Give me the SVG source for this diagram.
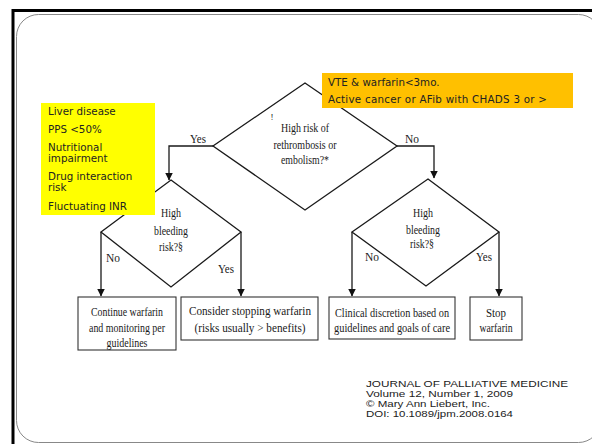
<svg xmlns="http://www.w3.org/2000/svg" width="592" height="444" viewBox="0 0 592 444">
<style>
.ln{fill:none;stroke:#1a1a1a;stroke-width:1.3}
.bx{fill:#fff;stroke:#333;stroke-width:1.1}
.t{font-family:"Liberation Serif",serif;font-size:12px;fill:#1a1a1a;text-anchor:middle}
.s{font-family:"DejaVu Sans",sans-serif;font-size:10.3px;fill:#222}
.j{font-family:"Liberation Sans",Arial,sans-serif;font-size:9.6px;fill:#222}
</style>
<defs>
<marker id="ar" viewBox="0 0 8 8" refX="7.5" refY="4" markerWidth="8" markerHeight="8" markerUnits="userSpaceOnUse" orient="auto">
<path d="M0,0 L8,4 L0,8 Z" fill="#111"/>
</marker>
</defs>
<rect width="592" height="444" fill="#fff"/>
<path d="M13,444 V10.5 H592" fill="none" stroke="#000" stroke-width="3"/>
<rect x="16.5" y="14.5" width="584" height="428" rx="22" fill="none" stroke="#888" stroke-width="1"/>

<g id="connectors">
<path class="ln" d="M213,146 H169 V180" marker-end="url(#ar)"/>
<path class="ln" d="M397,146 H434 V178" marker-end="url(#ar)"/>
<path class="ln" d="M101,232 V296" marker-end="url(#ar)"/>
<path class="ln" d="M241,232 V296" marker-end="url(#ar)"/>
<path class="ln" d="M352,232 V296" marker-end="url(#ar)"/>
<path class="ln" d="M499,232 V296" marker-end="url(#ar)"/>
<text class="t" x="198" y="143" textLength="16" lengthAdjust="spacingAndGlyphs">Yes</text>
<text class="t" x="412" y="143" textLength="14" lengthAdjust="spacingAndGlyphs">No</text>
<text class="t" x="113" y="262" textLength="14" lengthAdjust="spacingAndGlyphs">No</text>
<text class="t" x="226" y="273" textLength="16" lengthAdjust="spacingAndGlyphs">Yes</text>
<text class="t" x="372" y="261" textLength="14" lengthAdjust="spacingAndGlyphs">No</text>
<text class="t" x="484" y="261" textLength="16" lengthAdjust="spacingAndGlyphs">Yes</text>
</g>

<g id="d1">
<path class="ln" d="M305,83 L397,146 L305,210 L213,146 Z"/>
<text class="t" x="305" y="132" textLength="48" lengthAdjust="spacingAndGlyphs">High risk of</text>
<text class="t" x="305" y="149" textLength="63" lengthAdjust="spacingAndGlyphs">rethrombosis or</text>
<text class="t" x="305" y="164" textLength="48" lengthAdjust="spacingAndGlyphs">embolism?*</text>
<text class="t" x="272" y="120" style="font-size:9px">!</text>
</g>

<g id="d2">
<path class="ln" d="M171,180 L241,232 L171,287 L101,232 Z"/>
<text class="t" x="171" y="217" textLength="20" lengthAdjust="spacingAndGlyphs">High</text>
<text class="t" x="171" y="235" textLength="34" lengthAdjust="spacingAndGlyphs">bleeding</text>
<text class="t" x="171" y="251" textLength="24" lengthAdjust="spacingAndGlyphs">risk?§</text>
</g>

<g id="d3">
<path class="ln" d="M428,179 L499,232 L426,286 L352,232 Z"/>
<text class="t" x="423" y="217" textLength="20" lengthAdjust="spacingAndGlyphs">High</text>
<text class="t" x="423" y="234" textLength="34" lengthAdjust="spacingAndGlyphs">bleeding</text>
<text class="t" x="422" y="248" textLength="24" lengthAdjust="spacingAndGlyphs">risk?§</text>
</g>

<g id="b1">
<rect class="bx" x="78" y="297" width="98" height="53"/>
<text class="t" x="127" y="316" textLength="72" lengthAdjust="spacingAndGlyphs">Continue warfarin</text>
<text class="t" x="127" y="332" textLength="76" lengthAdjust="spacingAndGlyphs">and monitoring per</text>
<text class="t" x="127" y="347" textLength="41" lengthAdjust="spacingAndGlyphs">guidelines</text>
</g>

<g id="b2">
<rect class="bx" x="181" y="297" width="137" height="43"/>
<text class="t" x="250" y="315" textLength="122" lengthAdjust="spacingAndGlyphs">Consider stopping warfarin</text>
<text class="t" x="250" y="332" textLength="111" lengthAdjust="spacingAndGlyphs">(risks usually &gt; benefits)</text>
</g>

<g id="b3">
<rect class="bx" x="329" y="297" width="126" height="42"/>
<text class="t" x="392" y="317" textLength="114" lengthAdjust="spacingAndGlyphs">Clinical discretion based on</text>
<text class="t" x="392" y="332" textLength="116" lengthAdjust="spacingAndGlyphs">guidelines and goals of care</text>
</g>

<g id="b4">
<rect class="bx" x="470" y="297" width="52" height="43"/>
<text class="t" x="496" y="317" textLength="20" lengthAdjust="spacingAndGlyphs">Stop</text>
<text class="t" x="496" y="332" textLength="33" lengthAdjust="spacingAndGlyphs">warfarin</text>
</g>

<g id="orange">
<rect x="322" y="73" width="251" height="35" fill="#FFC000"/>
<text class="s" x="328" y="86">VTE &amp; warfarin&lt;3mo.</text>
<text class="s" x="328" y="103" textLength="219">Active cancer or AFib with CHADS 3 or &gt;</text>
</g>

<g id="yellow">
<rect x="41" y="103" width="114" height="112" fill="#FFFF00"/>
<text class="s" x="48" y="115">Liver disease</text>
<text class="s" x="48" y="133">PPS &lt;50%</text>
<text class="s" x="48" y="151">Nutritional</text>
<text class="s" x="48" y="162">impairment</text>
<text class="s" x="48" y="180">Drug interaction</text>
<text class="s" x="48" y="191">risk</text>
<text class="s" x="48" y="210">Fluctuating INR</text>
</g>

<g id="journal">
<text class="j" x="366" y="387" textLength="202" lengthAdjust="spacingAndGlyphs">JOURNAL OF PALLIATIVE MEDICINE</text>
<text class="j" x="366" y="397" textLength="147" lengthAdjust="spacingAndGlyphs">Volume 12, Number 1, 2009</text>
<text class="j" x="366" y="407" textLength="124" lengthAdjust="spacingAndGlyphs">© Mary Ann Liebert, Inc.</text>
<text class="j" x="366" y="417" textLength="147" lengthAdjust="spacingAndGlyphs">DOI: 10.1089/jpm.2008.0164</text>
</g>
</svg>
